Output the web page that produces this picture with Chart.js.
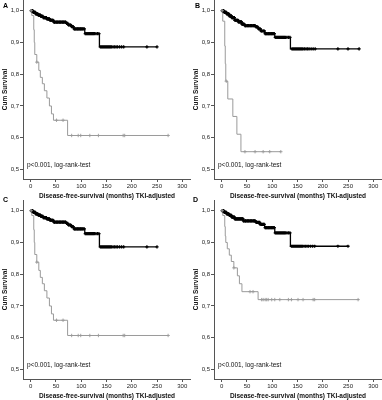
<!DOCTYPE html>
<html><head><meta charset="utf-8">
<script src="https://cdn.jsdelivr.net/npm/chart.js@4"></script>
<style>
html,body{margin:0;padding:0;background:#fff;width:382px;height:400px;overflow:hidden}
.p{position:absolute;width:191px;height:200px}
.lbl{position:absolute;font:bold 7px "Liberation Sans",Arial,sans-serif;color:#000;line-height:7px}
</style></head><body>
<div class="p" style="left:0;top:0"><canvas id="cA" width="191" height="200"></canvas></div>
<div class="p" style="left:191px;top:0"><canvas id="cB" width="191" height="200"></canvas></div>
<div class="p" style="left:0;top:200px"><canvas id="cC" width="191" height="200"></canvas></div>
<div class="p" style="left:191px;top:200px"><canvas id="cD" width="191" height="200"></canvas></div>
<div class="lbl" style="left:3px;top:2px">A</div>
<div class="lbl" style="left:195px;top:2px">B</div>
<div class="lbl" style="left:3px;top:196px">C</div>
<div class="lbl" style="left:193px;top:196px">D</div>
<script>
const xTicks = [0,50,100,150,200,250,300];
const yTicks = [0.5,0.6,0.7,0.8,0.9,1.0];
const xTitle = 'Disease-free-survival (months) TKI-adjusted';
const yTitle = 'Cum Survival';
const pText = 'p<0.001, log-rank-test';

// Panel A
const blackTimesA = [0,5,10,15,20,25,32,38,45,70,75,80,85,107,136,250];
const blackSurvA  = [1,0.995,0.99,0.986,0.982,0.978,0.974,0.97,0.964,0.96,0.955,0.95,0.943,0.928,0.886,0.886];
const blackCensorA = [1,2,3,4,5,6,7,8,9,10,11,12,13,14,15,16,17,18,19,20,21,22,23,24,25,26,27,28,29,30,31,32,33,34,35,36,37,38,39,40,41,42,43,44,46,47,48,50,51,53,54,56,57,59,60,62,63,65,66,68,69,71,73,75,76,78,79,81,83,84,86,87,89,90,92,93,95,96,98,99,101,102,104,106,108,110,112,114,116,118,120,122,124,126,129,132,135,138,140,142,144,146,148,150,152,154,156,158,160,163,166,169,172,176,180,184,230,250];
const grayTimesA = [0,2,6,7,8,12,16,19,23,27,32,37,41,45,73,272];
const graySurvA  = [1,0.985,0.94,0.9,0.862,0.838,0.812,0.79,0.77,0.748,0.725,0.7,0.675,0.655,0.607,0.607];
const grayCensorA = [1,12,51,64,81,94,99,117,134,183,186,272];

// Panel B
const blackTimesB = [0,5,10,15,20,26,33,40,46,68,72,78,85,105,136,272];
const blackSurvB  = [1,0.995,0.99,0.984,0.978,0.97,0.965,0.958,0.953,0.949,0.943,0.936,0.928,0.916,0.88,0.88];
const blackCensorB = [1,2,3,4,5,6,7,8,9,10,11,12,13,14,15,16,17,18,19,20,21,22,23,24,25,26,27,28,29,30,31,32,33,34,35,36,37,38,39,40,41,42,43,44,46,47,48,50,51,53,54,56,57,59,60,62,63,65,66,68,69,71,73,75,76,78,79,81,83,84,86,87,89,90,92,93,95,96,98,99,101,102,104,106,108,110,112,114,116,118,120,122,124,126,129,132,135,139,141,143,145,147,149,151,153,155,157,159,161,164,167,170,173,177,181,185,230,250,272];
const grayTimesB = [0,2,6,7,8,12,22,30,38,117];
const graySurvB  = [1,0.967,0.889,0.833,0.778,0.722,0.667,0.611,0.556,0.556];
const grayCensorB = [1,9,46,66,82,95,117];

// Panel C
const blackTimesC = [0,5,10,15,20,25,32,38,45,70,75,80,85,107,136,250];
const blackSurvC  = [1,0.995,0.99,0.986,0.982,0.978,0.974,0.97,0.964,0.96,0.955,0.95,0.943,0.928,0.886,0.886];
const blackCensorC = [1,2,3,4,5,6,7,8,9,10,11,12,13,14,15,16,17,18,19,20,21,22,23,24,25,26,27,28,29,30,31,32,33,34,35,36,37,38,39,40,41,42,43,44,46,47,48,50,51,53,54,56,57,59,60,62,63,65,66,68,69,71,73,75,76,78,79,81,83,84,86,87,89,90,92,93,95,96,98,99,101,102,104,106,108,110,112,114,116,118,120,122,124,126,129,132,135,138,140,142,144,146,148,150,152,154,156,158,160,163,166,169,172,176,180,184,230,250];
const grayTimesC = [0,2,6,7,8,12,16,19,23,27,32,37,41,45,73,272];
const graySurvC  = [1,0.985,0.94,0.9,0.862,0.838,0.812,0.79,0.77,0.748,0.725,0.7,0.675,0.655,0.607,0.607];
const grayCensorC = [1,12,51,64,81,94,99,117,134,183,186,272];

// Panel D
const blackTimesD = [0,5,10,15,20,26,43,68,76,85,105,136,250];
const blackSurvD  = [1,0.995,0.99,0.985,0.98,0.974,0.968,0.963,0.957,0.947,0.93,0.888,0.888];
const blackCensorD = [1,2,3,4,5,6,7,8,9,10,11,12,13,14,15,16,17,18,19,20,21,22,23,24,25,26,27,28,29,30,31,32,33,34,35,36,37,38,39,40,41,42,43,44,46,47,48,50,51,53,54,56,57,59,60,62,63,65,66,68,69,71,73,75,76,78,79,81,83,84,86,87,89,90,92,93,95,96,98,99,101,102,104,106,108,110,112,114,116,118,120,122,124,126,129,132,135,138,140,142,144,146,148,150,152,154,156,158,160,163,166,169,172,176,180,184,230,250];
const grayTimesD = [0,2,6,7,8,11,15,19,24,31,35,40,72,272];
const graySurvD  = [1,0.985,0.95,0.92,0.9,0.88,0.86,0.84,0.82,0.795,0.77,0.745,0.72,0.72];
const grayCensorD = [1,24,56,62,79,82,86,89,92,99,105,115,132,138,151,161,181,184,270];

const F = '"Liberation Sans", Arial, sans-serif';
const BLACK = '#000';
const GRAY = '#9a9a9a';

function survAt(times, surv, t){
  let v = surv[0];
  for (let i=0;i<times.length;i++){ if (times[i] <= t) v = surv[i]; }
  return v;
}

const pPlugin = {
  id:'ptext',
  afterDatasetsDraw(chart){
    const ctx = chart.ctx, a = chart.chartArea;
    ctx.save();
    ctx.font = '6.5px ' + F;
    ctx.fillStyle = '#111';
    ctx.textBaseline = 'middle';
    ctx.fillText(pText, a.left + 4, a.bottom - 13.5);
    ctx.restore();
  }
};

function makeChart(id, bt, bs, bc, gt, gs, gc){
  const line = (t,s,c,w) => ({
    type:'line', data:t.map((x,i)=>({x:x,y:s[i]})), stepped:true,
    borderColor:c, borderWidth:w, pointRadius:0, fill:false, order:2
  });
  const marks = (cens,t,s,c,r,w) => ({
    type:'scatter', data:cens.map(x=>({x:x,y:survAt(t,s,x)})),
    pointStyle:'cross', pointRadius:r, pointBorderColor:c, borderColor:c,
    pointBorderWidth:w, borderWidth:w, backgroundColor:c, order:1
  });
  new Chart(document.getElementById(id), {
    data:{ datasets:[
      line(gt,gs,GRAY,1), marks(gc,gt,gs,GRAY,1.7,0.9),
      line(bt,bs,BLACK,1.3), marks(bc,bt,bs,BLACK,1.6,1.3)
    ]},
    options:{
      responsive:false, animation:false,
      layout:{padding:0, autoPadding:false},
      plugins:{legend:{display:false}, tooltip:{enabled:false}},
      scales:{
        x:{type:'linear', min:-15.3, max:317.3,
          afterBuildTicks:s=>{s.ticks = xTicks.map(v=>({value:v}));},
          afterFit:s=>{s.height = 21; s.paddingLeft = 0; s.paddingRight = 0;},
          border:{display:true,color:'#555',width:1},
          grid:{display:true,drawOnChartArea:false,drawTicks:true,tickLength:3,color:'#555'},
          ticks:{autoSkip:false,maxRotation:0,padding:1,font:{size:6,family:F},color:'#222'},
          title:{display:true,text:xTitle,font:{size:6.5,weight:'bold',family:F,lineHeight:1},color:'#111',padding:{top:0,bottom:1}}
        },
        y:{type:'linear', min:0.470, max:1.0337,
          afterBuildTicks:s=>{s.ticks = yTicks.map(v=>({value:v}));},
          afterFit:s=>{s.width = 23; s.paddingTop = 0; s.paddingBottom = 0;},
          border:{display:true,color:'#555',width:1},
          grid:{display:true,drawOnChartArea:false,drawTicks:true,tickLength:3,color:'#555'},
          ticks:{padding:1,font:{size:6,family:F},color:'#222',callback:v=>v.toFixed(1).replace('.',',')},
          title:{display:true,text:yTitle,font:{size:6.5,weight:'bold',family:F,lineHeight:1},color:'#111',padding:{top:2,bottom:0}}
        }
      }
    },
    plugins:[pPlugin]
  });
}

makeChart('cA', blackTimesA, blackSurvA, blackCensorA, grayTimesA, graySurvA, grayCensorA);
makeChart('cB', blackTimesB, blackSurvB, blackCensorB, grayTimesB, graySurvB, grayCensorB);
makeChart('cC', blackTimesC, blackSurvC, blackCensorC, grayTimesC, graySurvC, grayCensorC);
makeChart('cD', blackTimesD, blackSurvD, blackCensorD, grayTimesD, graySurvD, grayCensorD);
</script>
</body></html>
